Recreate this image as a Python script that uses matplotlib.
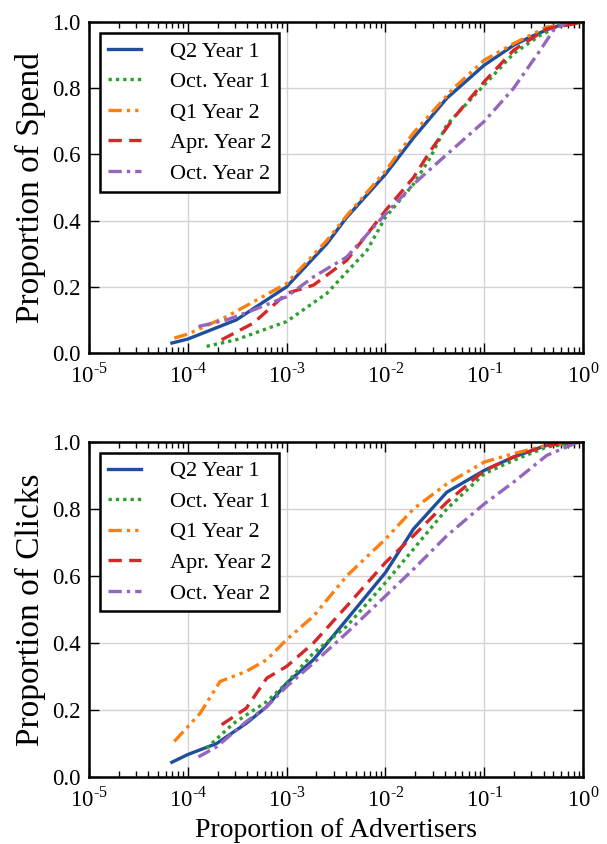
import numpy as np
import matplotlib
matplotlib.use("Agg")
import matplotlib.pyplot as plt
from matplotlib.ticker import FixedLocator, FixedFormatter

plt.rcParams['font.family'] = ['Liberation Serif', 'DejaVu Serif']
plt.rcParams['mathtext.fontset'] = 'custom'
plt.rcParams['mathtext.rm'] = 'Liberation Serif'

labels = ['Q2 Year 1', 'Oct. Year 1', 'Q1 Year 2', 'Apr. Year 2', 'Oct. Year 2']
colors = ['#1f4e9c', '#2ca02c', '#ff7f0e', '#d62728', '#9467bd']
styles = ['-', (0, (1, 1.2)), (0, (4, 1.5, 1, 1.5, 1, 1.5)), (0, (4, 2.2)), (0, (4, 1.5, 1, 1.5))]

# spend curves (x = proportion of advertisers)
spend_q2y1_x = [6.9e-5, 1e-4, 3.1e-4, 1e-3, 2.55e-3, 4.06e-3, 1e-2, 0.0192, 0.0418, 0.1, 0.198, 0.292, 0.50, 0.59, 1.0]
spend_q2y1_y = [0.03, 0.042, 0.10, 0.20, 0.33, 0.41, 0.54, 0.65, 0.77, 0.87, 0.93, 0.955, 0.985, 0.99, 1.0]
spend_oy1_x = [1.55e-4, 3.1e-4, 1e-3, 2.55e-3, 6.5e-3, 1e-2, 0.0192, 0.0284, 0.0418, 0.1, 0.198, 0.368, 0.59, 1.0]
spend_oy1_y = [0.02, 0.04, 0.095, 0.18, 0.31, 0.41, 0.51, 0.59, 0.69, 0.81, 0.905, 0.96, 0.99, 1.0]
spend_q1y2_x = [7.3e-5, 1e-4, 2.48e-4, 1e-3, 2.55e-3, 4.06e-3, 1e-2, 0.0192, 0.0489, 0.1, 0.198, 0.43, 1.0]
spend_q1y2_y = [0.045, 0.057, 0.11, 0.21, 0.34, 0.415, 0.55, 0.665, 0.80, 0.885, 0.935, 0.985, 1.0]
spend_ay2_x = [2.2e-4, 4.6e-4, 1e-3, 1.87e-3, 4.06e-3, 1e-2, 0.0192, 0.0284, 0.0489, 0.1, 0.198, 0.43, 1.0]
spend_ay2_y = [0.04, 0.09, 0.18, 0.205, 0.28, 0.43, 0.53, 0.61, 0.71, 0.82, 0.915, 0.98, 1.0]
spend_oy2_x = [1.28e-4, 2.48e-4, 4.6e-4, 1e-3, 1.87e-3, 4.06e-3, 1e-2, 0.0192, 0.0418, 0.1, 0.198, 0.368, 0.50, 0.69, 1.0]
spend_oy2_y = [0.08, 0.10, 0.13, 0.17, 0.23, 0.29, 0.42, 0.51, 0.60, 0.70, 0.80, 0.915, 0.975, 1.0, 1.0]

# clicks curves
click_q2y1_x = [6.9e-5, 1e-4, 1.96e-4, 3.9e-4, 6.3e-4, 1e-3, 1.87e-3, 4.06e-3, 1e-2, 0.0192, 0.0418, 0.1, 0.198, 0.43, 1.0]
click_q2y1_y = [0.044, 0.067, 0.10, 0.16, 0.21, 0.28, 0.35, 0.47, 0.61, 0.74, 0.85, 0.915, 0.955, 0.99, 1.0]
click_oy1_x = [1.55e-4, 2.9e-4, 6.3e-4, 1e-3, 1.87e-3, 4.06e-3, 1e-2, 0.0192, 0.0418, 0.1, 0.198, 0.43, 1.0]
click_oy1_y = [0.086, 0.16, 0.225, 0.28, 0.37, 0.45, 0.58, 0.68, 0.80, 0.905, 0.945, 0.985, 1.0]
click_q1y2_x = [7.3e-5, 1.33e-4, 2.12e-4, 3.9e-4, 6.3e-4, 1e-3, 1.87e-3, 4.06e-3, 1e-2, 0.0192, 0.0418, 0.1, 0.198, 0.43, 1.0]
click_q1y2_y = [0.106, 0.19, 0.285, 0.315, 0.35, 0.41, 0.48, 0.60, 0.71, 0.80, 0.875, 0.94, 0.965, 0.99, 1.0]
click_ay2_x = [2.2e-4, 3.9e-4, 6.3e-4, 1e-3, 1.87e-3, 4.06e-3, 1e-2, 0.0192, 0.0418, 0.1, 0.198, 0.43, 1.0]
click_ay2_y = [0.156, 0.205, 0.295, 0.33, 0.40, 0.51, 0.64, 0.72, 0.82, 0.915, 0.955, 0.99, 1.0]
click_oy2_x = [1.28e-4, 1.96e-4, 3.9e-4, 6.3e-4, 1e-3, 1.87e-3, 4.06e-3, 1e-2, 0.0192, 0.0418, 0.1, 0.198, 0.43, 0.9, 1.0]
click_oy2_y = [0.06, 0.09, 0.165, 0.21, 0.27, 0.34, 0.43, 0.54, 0.62, 0.72, 0.815, 0.88, 0.96, 1.0, 1.0]

xtick_vals = [1e-5, 1e-4, 1e-3, 1e-2, 1e-1, 1]
xtick_labels = [r'$10^{\text{-5}}$', r'$10^{\text{-4}}$', r'$10^{\text{-3}}$',
                r'$10^{\text{-2}}$', r'$10^{\text{-1}}$', r'$10^{0}$']
ytick_vals = [0.0, 0.2, 0.4, 0.6, 0.8, 1.0]

spend = [(spend_q2y1_x, spend_q2y1_y), (spend_oy1_x, spend_oy1_y), (spend_q1y2_x, spend_q1y2_y),
         (spend_ay2_x, spend_ay2_y), (spend_oy2_x, spend_oy2_y)]
clicks = [(click_q2y1_x, click_q2y1_y), (click_oy1_x, click_oy1_y), (click_q1y2_x, click_q1y2_y),
          (click_ay2_x, click_ay2_y), (click_oy2_x, click_oy2_y)]

fig = plt.figure(figsize=(6.07, 8.44), dpi=100)
ax1 = fig.add_axes([0.1466, 0.5818, 0.814, 0.392])
ax2 = fig.add_axes([0.1466, 0.0794, 0.814, 0.397])

for ax, data, ylab in [(ax1, spend, 'Proportion of Spend'), (ax2, clicks, 'Proportion of Clicks')]:
    for (x, y), lab, c, ls in zip(data, labels, colors, styles):
        ax.plot(x, y, color=c, linestyle=ls, linewidth=2.4, label=lab)
    ax.set_xscale('log')
    ax.set_xlim(1e-5, 1)
    ax.set_ylim(0, 1)
    ax.xaxis.set_major_locator(FixedLocator(xtick_vals))
    ax.xaxis.set_major_formatter(FixedFormatter(xtick_labels))
    ax.set_yticks(ytick_vals)
    ax.set_yticklabels(['%.1f' % v for v in ytick_vals])
    ax.grid(True, color='#d3d3d3', linewidth=1, linestyle='-')
    ax.set_axisbelow(True)
    ax.tick_params(which='both', direction='in', top=True, right=True, labelsize=16.5)
    ax.tick_params(which='major', length=7, width=1)
    ax.tick_params(which='minor', length=4, width=1)
    ax.tick_params(axis='x', which='major', pad=7)
    ax.tick_params(axis='y', which='major', pad=6)
    for s in ax.spines.values():
        s.set_linewidth(1.8)
    ax.set_ylabel(ylab, fontsize=24, labelpad=4)
    leg = ax.legend(loc='upper left', fontsize=16, fancybox=False, edgecolor='black',
                    framealpha=1, handlelength=1.5, handletextpad=1.3, labelspacing=0.45,
                    borderpad=0.35, borderaxespad=0.5)
    leg.get_frame().set_linewidth(1.8)

ax2.set_xlabel('Proportion of Advertisers', fontsize=20, labelpad=5)

fig.savefig('out.png', dpi=100)
